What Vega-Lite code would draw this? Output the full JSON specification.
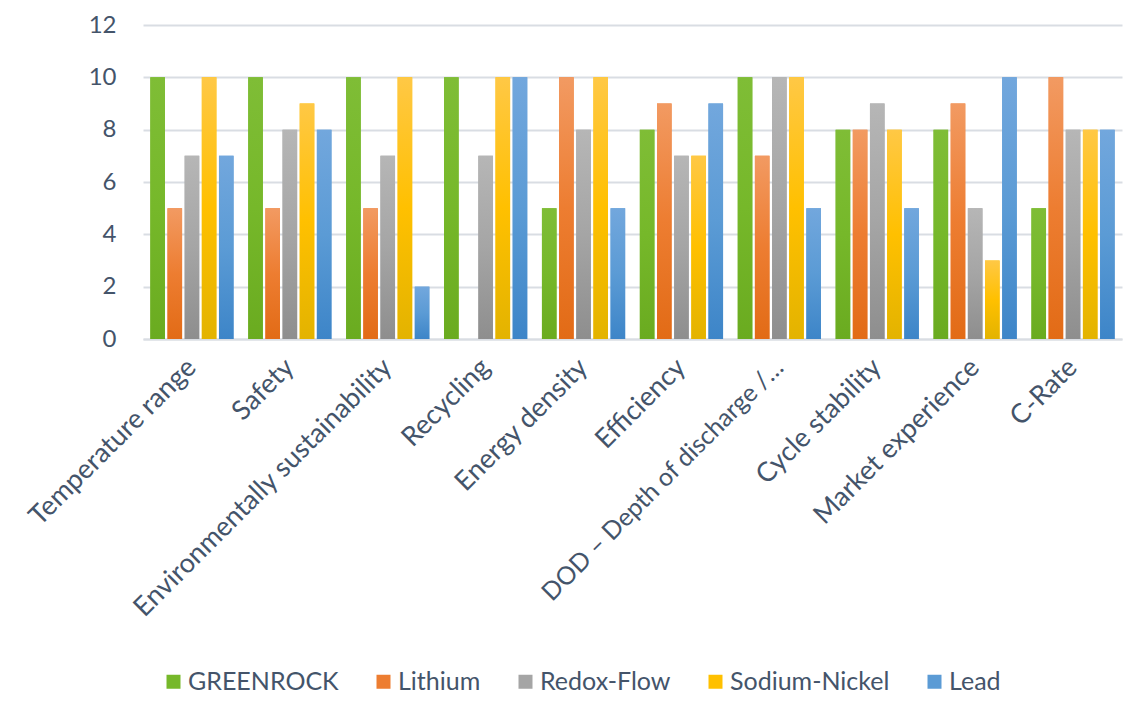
{
  "$schema": "https://vega.github.io/schema/vega-lite/v6.json",
  "width": 979,
  "height": 314,
  "autosize": {"type": "none"},
  "padding": {"left": 143, "top": 25, "right": 21, "bottom": 371},
  "background": "#ffffff",
  "config": {
    "view": {"stroke": null},
    "font": "Lato",
    "axis": {"labelFont": "Lato", "labelColor": "#44546a", "labelFontSize": 24},
    "legend": {"labelFont": "Lato", "labelColor": "#44546a", "labelFontSize": 25}
  },
  "data": {
    "values": [
      {"criterion": "Temperature range", "tech": "GREENROCK", "score": 10},
      {"criterion": "Temperature range", "tech": "Lithium", "score": 5},
      {"criterion": "Temperature range", "tech": "Redox-Flow", "score": 7},
      {"criterion": "Temperature range", "tech": "Sodium-Nickel", "score": 10},
      {"criterion": "Temperature range", "tech": "Lead", "score": 7},
      {"criterion": "Safety", "tech": "GREENROCK", "score": 10},
      {"criterion": "Safety", "tech": "Lithium", "score": 5},
      {"criterion": "Safety", "tech": "Redox-Flow", "score": 8},
      {"criterion": "Safety", "tech": "Sodium-Nickel", "score": 9},
      {"criterion": "Safety", "tech": "Lead", "score": 8},
      {"criterion": "Environmentally sustainability", "tech": "GREENROCK", "score": 10},
      {"criterion": "Environmentally sustainability", "tech": "Lithium", "score": 5},
      {"criterion": "Environmentally sustainability", "tech": "Redox-Flow", "score": 7},
      {"criterion": "Environmentally sustainability", "tech": "Sodium-Nickel", "score": 10},
      {"criterion": "Environmentally sustainability", "tech": "Lead", "score": 2},
      {"criterion": "Recycling", "tech": "GREENROCK", "score": 10},
      {"criterion": "Recycling", "tech": "Lithium", "score": 0},
      {"criterion": "Recycling", "tech": "Redox-Flow", "score": 7},
      {"criterion": "Recycling", "tech": "Sodium-Nickel", "score": 10},
      {"criterion": "Recycling", "tech": "Lead", "score": 10},
      {"criterion": "Energy density", "tech": "GREENROCK", "score": 5},
      {"criterion": "Energy density", "tech": "Lithium", "score": 10},
      {"criterion": "Energy density", "tech": "Redox-Flow", "score": 8},
      {"criterion": "Energy density", "tech": "Sodium-Nickel", "score": 10},
      {"criterion": "Energy density", "tech": "Lead", "score": 5},
      {"criterion": "Efficiency", "tech": "GREENROCK", "score": 8},
      {"criterion": "Efficiency", "tech": "Lithium", "score": 9},
      {"criterion": "Efficiency", "tech": "Redox-Flow", "score": 7},
      {"criterion": "Efficiency", "tech": "Sodium-Nickel", "score": 7},
      {"criterion": "Efficiency", "tech": "Lead", "score": 9},
      {"criterion": "DOD – Depth of discharge /…", "tech": "GREENROCK", "score": 10},
      {"criterion": "DOD – Depth of discharge /…", "tech": "Lithium", "score": 7},
      {"criterion": "DOD – Depth of discharge /…", "tech": "Redox-Flow", "score": 10},
      {"criterion": "DOD – Depth of discharge /…", "tech": "Sodium-Nickel", "score": 10},
      {"criterion": "DOD – Depth of discharge /…", "tech": "Lead", "score": 5},
      {"criterion": "Cycle stability", "tech": "GREENROCK", "score": 8},
      {"criterion": "Cycle stability", "tech": "Lithium", "score": 8},
      {"criterion": "Cycle stability", "tech": "Redox-Flow", "score": 9},
      {"criterion": "Cycle stability", "tech": "Sodium-Nickel", "score": 8},
      {"criterion": "Cycle stability", "tech": "Lead", "score": 5},
      {"criterion": "Market experience", "tech": "GREENROCK", "score": 8},
      {"criterion": "Market experience", "tech": "Lithium", "score": 9},
      {"criterion": "Market experience", "tech": "Redox-Flow", "score": 5},
      {"criterion": "Market experience", "tech": "Sodium-Nickel", "score": 3},
      {"criterion": "Market experience", "tech": "Lead", "score": 10},
      {"criterion": "C-Rate", "tech": "GREENROCK", "score": 5},
      {"criterion": "C-Rate", "tech": "Lithium", "score": 10},
      {"criterion": "C-Rate", "tech": "Redox-Flow", "score": 8},
      {"criterion": "C-Rate", "tech": "Sodium-Nickel", "score": 8},
      {"criterion": "C-Rate", "tech": "Lead", "score": 8}
    ]
  },
  "encoding": {
    "x": {
      "field": "criterion",
      "type": "nominal",
      "title": null,
      "scale": {
        "domain": ["Temperature range", "Safety", "Environmentally sustainability", "Recycling", "Energy density", "Efficiency", "DOD – Depth of discharge /…", "Cycle stability", "Market experience", "C-Rate"],
        "paddingInner": 0.15,
        "paddingOuter": 0.075
      },
      "axis": {
        "labelAngle": -45,
        "labelAlign": "right",
        "labelBaseline": "middle",
        "labelPadding": 24,
        "labelFontSize": {"condition": {"test": "indexof(datum.label, 'DOD') === 0", "value": 25}, "value": 27},
        "labelLimit": 500,
        "ticks": false,
        "domain": true,
        "domainColor": "#d9dde3",
        "domainWidth": 2
      }
    },
    "xOffset": {
      "field": "tech",
      "type": "nominal",
      "scale": {
        "domain": ["GREENROCK", "Lithium", "Redox-Flow", "Sodium-Nickel", "Lead"],
        "paddingInner": 0.15,
        "paddingOuter": 0
      }
    },
    "y": {
      "field": "score",
      "type": "quantitative",
      "title": null,
      "scale": {"domain": [0, 12], "nice": false},
      "axis": {
        "values": [0, 2, 4, 6, 8, 10, 12],
        "grid": true,
        "gridColor": "#d9dde3",
        "gridWidth": 2,
        "domain": false,
        "ticks": false,
        "labelPadding": 27
      }
    }
  },
  "layer": [
    {
      "mark": {"type": "bar"},
      "encoding": {
        "color": {
          "field": "tech",
          "type": "nominal",
          "scale": {
            "domain": ["GREENROCK", "Lithium", "Redox-Flow", "Sodium-Nickel", "Lead"],
            "range": ["#76b82a", "#ed7d31", "#a5a5a5", "#ffc000", "#5b9bd5"]
          },
          "legend": {
            "title": null,
            "orient": "none",
            "direction": "horizontal",
            "legendX": 18,
            "legendY": 644,
            "symbolType": "square",
            "symbolSize": 196,
            "symbolStrokeWidth": 0,
            "labelOffset": 2,
            "labelLimit": 400,
            "columnPadding": 32,
            "padding": 0
          }
        }
      }
    },
    {
      "transform": [{"filter": "datum.tech === 'GREENROCK'"}],
      "mark": {"type": "bar", "color": {"gradient": "linear", "x1": 0, "y1": 0, "x2": 0, "y2": 1, "stops": [{"offset": 0, "color": "#7fbd36"}, {"offset": 0.5, "color": "#76b82a"}, {"offset": 1, "color": "#6aab20"}]}}
    },
    {
      "transform": [{"filter": "datum.tech === 'Lithium'"}],
      "mark": {"type": "bar", "color": {"gradient": "linear", "x1": 0, "y1": 0, "x2": 0, "y2": 1, "stops": [{"offset": 0, "color": "#f29a62"}, {"offset": 0.5, "color": "#ed7d31"}, {"offset": 1, "color": "#e26b16"}]}}
    },
    {
      "transform": [{"filter": "datum.tech === 'Redox-Flow'"}],
      "mark": {"type": "bar", "color": {"gradient": "linear", "x1": 0, "y1": 0, "x2": 0, "y2": 1, "stops": [{"offset": 0, "color": "#b6b6b6"}, {"offset": 0.5, "color": "#a5a5a5"}, {"offset": 1, "color": "#8e8e8e"}]}}
    },
    {
      "transform": [{"filter": "datum.tech === 'Sodium-Nickel'"}],
      "mark": {"type": "bar", "color": {"gradient": "linear", "x1": 0, "y1": 0, "x2": 0, "y2": 1, "stops": [{"offset": 0, "color": "#ffc845"}, {"offset": 0.5, "color": "#ffc000"}, {"offset": 1, "color": "#e3b300"}]}}
    },
    {
      "transform": [{"filter": "datum.tech === 'Lead'"}],
      "mark": {"type": "bar", "color": {"gradient": "linear", "x1": 0, "y1": 0, "x2": 0, "y2": 1, "stops": [{"offset": 0, "color": "#72a7dd"}, {"offset": 0.5, "color": "#5b9bd5"}, {"offset": 1, "color": "#3d85c8"}]}}
    }
  ]
}
